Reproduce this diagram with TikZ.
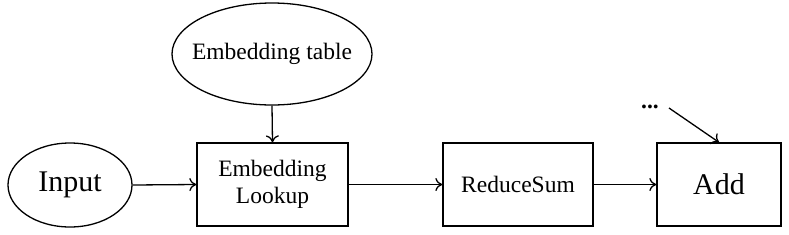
\documentclass[tikz,border=0pt]{standalone}
\usepackage{fontspec}
\setmainfont{Liberation Serif}
\usetikzlibrary{shapes.geometric,arrows.meta}
\begin{document}
\begin{tikzpicture}[x=1pt,y=-1pt,
  box/.style={draw,line width=1.3pt,minimum width=151pt,minimum height=83pt,inner sep=0pt,align=center,font=\fontsize{23.5}{27}\selectfont},
  oval/.style={draw,line width=1.3pt,ellipse,inner sep=0pt},
  conn/.style={line width=1.3pt,-{To[length=7pt,width=13pt]}}]
\useasboundingbox (0,0) rectangle (789,234);
\node[oval,minimum width=124pt,minimum height=84pt,font=\fontsize{30}{34}\selectfont] (input) at (70,185) {Input};
\node[oval,inner xsep=-10pt,minimum width=200pt,minimum height=102pt,font=\fontsize{23.5}{27}\selectfont] (table) at (272,54) {Embedding table};
\node[box] (lookup) at (272.5,184.5) {Embedding\\Lookup};
\node[box,minimum width=150pt] (reduce) at (518,184.5) {ReduceSum};
\node[box,minimum width=124pt,font=\fontsize{30}{34}\selectfont] (add) at (719,184.5) {Add};
\node[font=\fontsize{23.5}{27}\selectfont\bfseries,anchor=base] (dots) at (650,108) {...};
\coordinate (dotsend) at (669,108);
\draw[conn] (input.east) -- (lookup.west);
\draw[conn] (table.south) -- (lookup.north);
\draw[conn] (lookup.east) -- (reduce.west);
\draw[conn] (reduce.east) -- (add.west);
\draw[conn] (dotsend) -- (add.north);
\end{tikzpicture}
\end{document}
